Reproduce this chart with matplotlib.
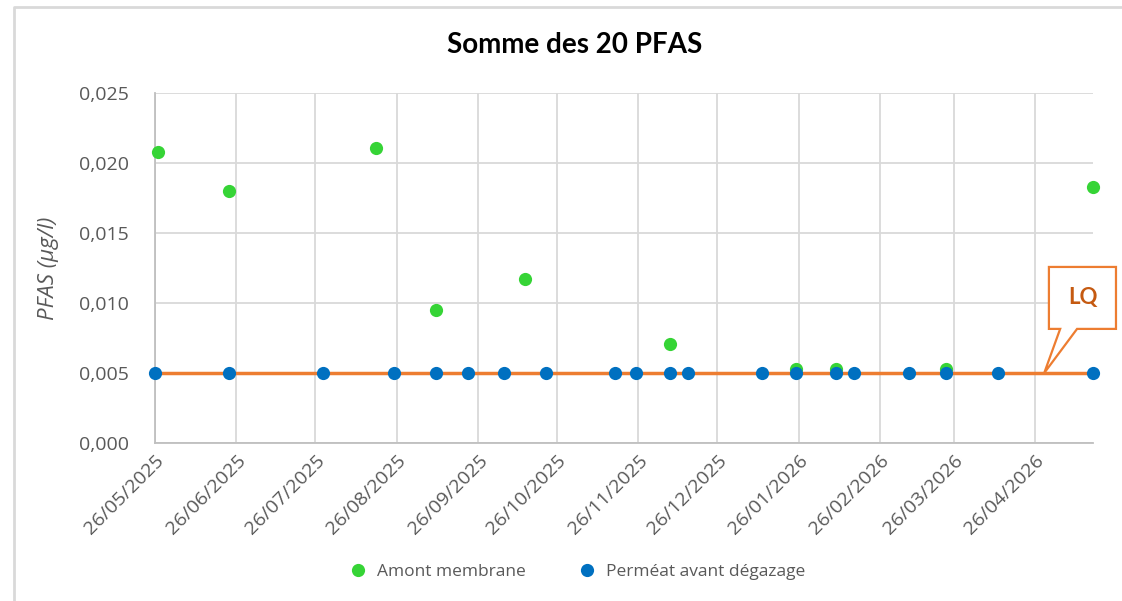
import matplotlib.pyplot as plt
import matplotlib.dates as mdates
from matplotlib.ticker import FuncFormatter
from matplotlib.patches import Polygon
from matplotlib.lines import Line2D
import pandas as pd

plt.rcParams['figure.figsize'] = [11.22, 6.01]
plt.rcParams['figure.dpi'] = 100
plt.rcParams['font.family'] = ['Open Sans', 'DejaVu Sans']

# Amont membrane
amont_dates = ['2025-05-27', '2025-06-23', '2025-08-18', '2025-09-10', '2025-10-14',
               '2025-12-08', '2026-01-25', '2026-02-09', '2026-03-23', '2026-05-18']
amont_values = [0.0208, 0.0180, 0.0211, 0.0095, 0.0117,
                0.0071, 0.0053, 0.0053, 0.0053, 0.0183]

# Perméat avant dégazage
permeat_dates = ['2025-05-26', '2025-06-23', '2025-07-29', '2025-08-25', '2025-09-10',
                 '2025-09-22', '2025-10-06', '2025-10-22', '2025-11-17', '2025-11-25',
                 '2025-12-08', '2025-12-15', '2026-01-12', '2026-01-25', '2026-02-09',
                 '2026-02-16', '2026-03-09', '2026-03-23', '2026-04-12', '2026-05-18']
permeat_values = [0.005] * 20

lq = 0.005

amont_dates = pd.to_datetime(amont_dates)
permeat_dates = pd.to_datetime(permeat_dates)

grey = '#595959'

fig = plt.figure()
ax = fig.add_axes([155 / 1122, 1 - 443 / 601, 938 / 1122, 350 / 601])

ax.plot(amont_dates, amont_values, 'o', color='#36D436', ms=9.5, mew=0, zorder=3,
        label='Amont membrane', clip_on=False)
ax.plot(permeat_dates, [lq] * len(permeat_dates), '-', color='#ED7D31', lw=2.5, zorder=4)
ax.plot(permeat_dates, permeat_values, 'o', color='#0070C0', ms=9.5, mew=0, zorder=5,
        label='Perméat avant dégazage', clip_on=False)

ax.set_xlim(permeat_dates[0], permeat_dates[-1])
ax.set_ylim(0, 0.025)
ax.set_yticks([0, 0.005, 0.01, 0.015, 0.02, 0.025])
ax.yaxis.set_major_formatter(FuncFormatter(lambda v, p: f'{v:.3f}'.replace('.', ',')))
ax.xaxis.set_major_locator(mdates.MonthLocator(bymonthday=26))
ax.xaxis.set_major_formatter(mdates.DateFormatter('%d/%m/%Y'))

ax.grid(True, color='#D9D9D9', lw=1.3, zorder=0)
ax.set_axisbelow(True)
for s in ['top', 'right']:
    ax.spines[s].set_visible(False)
ax.spines['left'].set_color('#BFBFBF')
ax.spines['bottom'].set_color('#BFBFBF')
ax.spines['left'].set_linewidth(1.3)
ax.spines['bottom'].set_linewidth(1.3)
ax.tick_params(length=0, labelcolor=grey, labelsize=14)
ax.tick_params(axis='y', pad=19)
ax.tick_params(axis='x', pad=6)
for lab in ax.get_xticklabels():
    lab.set_rotation(45)
    lab.set_ha('right')
    lab.set_va('top')
    lab.set_rotation_mode('anchor')

ax.set_ylabel('PFAS (µg/l)', fontsize=16, style='italic', color=grey, labelpad=14)

fig.text(575 / 1122, 1 - 45 / 601, 'Somme des 20 PFAS', ha='center', va='center',
         fontsize=20, fontweight='bold', color='black', family=['Lato', 'DejaVu Sans'])

# callout LQ
pts = [(0.953, 0.326), (0.965, 0.326), (0.948, 0.2), (0.983, 0.326), (1.0245, 0.326),
       (1.0245, 0.503), (0.953, 0.503)]
ax.add_patch(Polygon(pts, closed=True, transform=ax.transAxes, facecolor='white',
                     edgecolor='#ED7D31', lw=1.6, clip_on=False, zorder=6))
ax.text(0.989, 0.415, 'LQ', transform=ax.transAxes, ha='center', va='center',
        fontsize=16, fontweight='bold', color='#C55A11', zorder=7,
        family=['Lato', 'DejaVu Sans'])

ax.legend(loc='center', bbox_to_anchor=(573 / 1122, 1 - 572 / 601),
          bbox_transform=fig.transFigure, ncol=2, frameon=False, fontsize=12.5,
          labelcolor=grey, handletextpad=0.1, columnspacing=2.5, markerscale=1.0)

# chart border
fig.add_artist(Line2D([14 / 1122, 14 / 1122, 1], [0, 1 - 7 / 601, 1 - 7 / 601],
                      transform=fig.transFigure, color='#D9D9D9', lw=2))

plt.savefig('out.png')
